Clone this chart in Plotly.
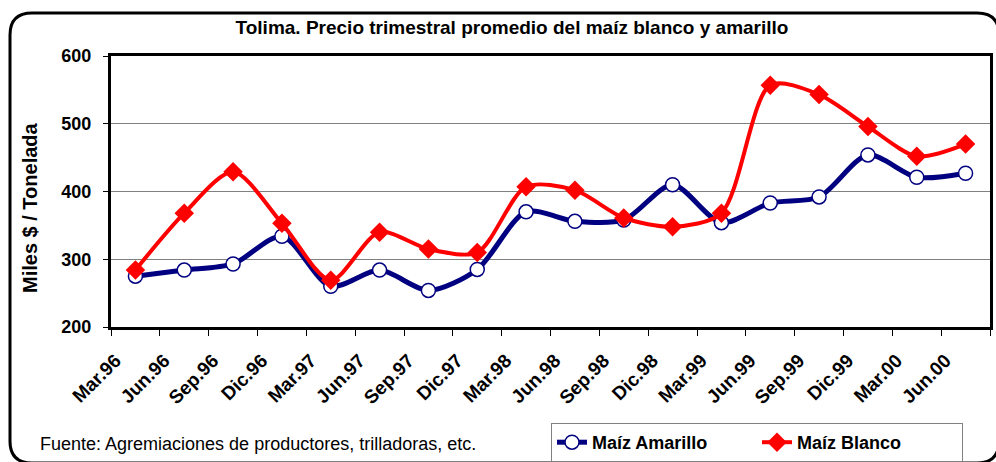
import plotly.graph_objects as go

quarters = ["Mar.96", "Jun.96", "Sep.96", "Dic.96", "Mar.97", "Jun.97", "Sep.97", "Dic.97",
            "Mar.98", "Jun.98", "Sep.98", "Dic.98", "Mar.99", "Jun.99", "Sep.99", "Dic.99",
            "Mar.00", "Jun.00"]
maiz_amarillo = [275, 284, 293, 334, 260, 284, 254, 285, 370, 356, 358, 410, 354, 383, 392, 454, 421, 427]
maiz_blanco = [284, 368, 429, 353, 269, 340, 315, 310, 407, 402, 361, 348, 368, 557, 543, 496, 452, 470]

W, H = 996, 462
L, R, T, B = 111, 6, 56, 135
PW, PH = W - L - R, H - T - B

def px(x):
    return (x - L) / PW

def py(y):
    return (H - B - y) / PH

FONT = "Liberation Sans, Arial, sans-serif"

fig = go.Figure()
fig.add_trace(go.Scatter(
    x=quarters, y=maiz_amarillo, name="Maíz Amarillo", mode="lines+markers",
    line=dict(color="#000080", width=5, shape="spline", smoothing=0.8),
    marker=dict(symbol="circle", size=14, color="white", line=dict(color="#000080", width=1.5)),
))
fig.add_trace(go.Scatter(
    x=quarters, y=maiz_blanco, name="Maíz Blanco", mode="lines+markers",
    line=dict(color="#FF0000", width=4, shape="spline", smoothing=0.8),
    marker=dict(symbol="diamond", size=15, color="#FF0000", line=dict(color="#FF0000", width=0)),
))

# outer rounded frame
x0, y0, x1, y1, r = 10, 13, 999, 463, 22
rx, ry = r / PW, r / PH
X0, X1, Y0, Y1 = px(x0), px(x1), py(y0), py(y1)
path = (f"M {X0+rx},{Y0} L {X1-rx},{Y0} Q {X1},{Y0} {X1},{Y0-ry} "
        f"L {X1},{Y1+ry} Q {X1},{Y1} {X1-rx},{Y1} "
        f"L {X0+rx},{Y1} Q {X0},{Y1} {X0},{Y1+ry} "
        f"L {X0},{Y0-ry} Q {X0},{Y0} {X0+rx},{Y0} Z")
fig.add_shape(type="path", path=path, xref="paper", yref="paper",
              line=dict(color="black", width=3), layer="below")

fig.update_layout(
    width=W, height=H,
    margin=dict(l=L, r=R, t=T, b=B, pad=0, autoexpand=False),
    paper_bgcolor="white", plot_bgcolor="white",
    font=dict(family=FONT, color="black"),
    title=dict(text="<b>Tolima. Precio trimestral promedio del maíz blanco y amarillo</b>",
               x=512 / W, xanchor="center", y=1 - 27 / H, yanchor="middle",
               font=dict(size=19, family=FONT, color="black")),
    showlegend=True,
    legend=dict(orientation="h", x=px(551), xanchor="left", y=py(423), yanchor="top",
                bordercolor="#808080", borderwidth=1, bgcolor="white",
                font=dict(size=18, family=FONT, color="black", weight="bold"),
                entrywidth=160, entrywidthmode="pixels", tracegroupgap=0),
    xaxis=dict(
        type="category", range=[-0.5, len(quarters) - 0.5],
        tickson="boundaries", ticks="outside", ticklen=6, tickwidth=1,
        tickcolor="black", tickangle=-45, ticklabelshift=-20, ticklabelstandoff=12,
        automargin=False,
        tickfont=dict(size=19, family=FONT, weight="bold"),
        showline=True, linecolor="black", linewidth=3, mirror=True,
        showgrid=False, zeroline=False, fixedrange=True,
    ),
    yaxis=dict(
        range=[200, 600], dtick=100, ticks="outside", ticklen=5, tickcolor="black",
        automargin=False, ticklabelstandoff=8,
        tickfont=dict(size=18, family=FONT, weight="bold"),
        showline=True, linecolor="black", linewidth=3, mirror=True,
        showgrid=True, gridcolor="#808080", gridwidth=1, zeroline=False,
    ),
    annotations=[
        dict(text="<b>Miles $ / Tonelada</b>", textangle=-90, xref="paper", yref="paper",
             x=px(30), y=py(208), xanchor="center", yanchor="middle", showarrow=False,
             font=dict(size=20, family=FONT, color="black")),
        dict(text="Fuente: Agremiaciones de productores, trilladoras, etc.", xref="paper", yref="paper",
             x=px(38), y=py(444), xanchor="left", yanchor="middle", showarrow=False,
             font=dict(size=18, family=FONT, color="black")),
    ],
)

fig.write_html("out.html", config={"displayModeBar": False},
               post_script="document.body.style.margin='0';")
